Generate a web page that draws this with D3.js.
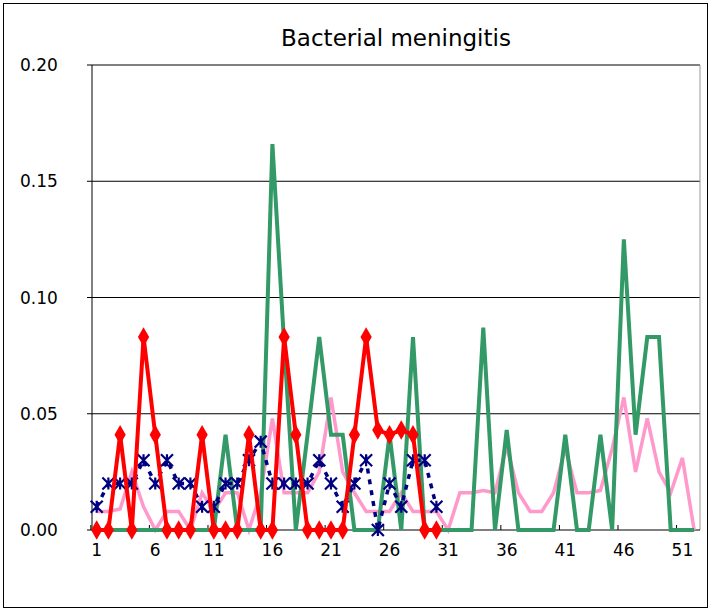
<!DOCTYPE html>
<html><head><meta charset="utf-8"><script src="https://cdn.jsdelivr.net/npm/d3@7"></script>
<style>body{margin:0;background:#fff}</style></head><body>
<script>
const weeks = d3.range(1,53);
const xTicks = [1,6,11,16,21,26,31,36,41,46,51];
const yTicks = [0,0.05,0.10,0.15,0.20];
const red = [0,0,0.041,0,0.083,0.041,0,0,0,0.041,0,0,0,0.041,0,0,0.083,0.041,0,0,0,0,0.041,0.083,0.043,0.041,0.043,0.041,0,0];
const blue = [0.01,0.02,0.02,0.02,0.03,0.02,0.03,0.02,0.02,0.01,0.01,0.02,0.02,0.03,0.038,0.02,0.02,0.02,0.02,0.03,0.02,0.01,0.02,0.03,0,0.02,0.01,0.03,0.03,0.01];
const green = [0,0,0,0,0,0,0,0,0,0,0,0.041,0,0,0,0.166,0.08,0,0.041,0.083,0.041,0.041,0,0,0,0.041,0,0.083,0,0,0,0,0,0.087,0,0.043,0,0,0,0,0.041,0,0,0.041,0,0.125,0.041,0.083,0.083,0,0,0];
const pink = [0.008,0.008,0.009,0.025,0.01,0,0.008,0.008,0,0.016,0.008,0.016,0.016,0,0.016,0.048,0.016,0.016,0.016,0.025,0.057,0.025,0.016,0.008,0.008,0.008,0.016,0.008,0.008,0.008,0,0.016,0.016,0.017,0.016,0.036,0.016,0.008,0.008,0.016,0.035,0.016,0.016,0.017,0.035,0.057,0.025,0.048,0.025,0.016,0.031,0];
const W=710,H=610, L=92,R=700,T=65,B=530;
const svg=d3.select("body").append("svg").attr("width",W).attr("height",H);
svg.append("rect").attr("x",3.5).attr("y",3.5).attr("width",W-6).attr("height",H-6).attr("fill","none").attr("stroke","#000");
const x=d3.scaleLinear().domain([0.6,52.5]).range([L,R]);
const y=d3.scaleLinear().domain([0,0.2]).range([B,T]);
const font="'DejaVu Sans', sans-serif";
svg.append("g").selectAll("line").data(yTicks.slice(1)).join("line")
 .attr("x1",L).attr("x2",R).attr("y1",d=>y(d)).attr("y2",d=>y(d)).attr("stroke","#000");
svg.append("line").attr("x1",R).attr("x2",R).attr("y1",T).attr("y2",B).attr("stroke","#999");
svg.append("line").attr("x1",L).attr("x2",L).attr("y1",T).attr("y2",B).attr("stroke","#000");
svg.append("line").attr("x1",L).attr("x2",R).attr("y1",B).attr("y2",B).attr("stroke","#000");
svg.append("g").selectAll("line").data(yTicks).join("line").attr("x1",L-5).attr("x2",L).attr("y1",d=>y(d)).attr("y2",d=>y(d)).attr("stroke","#000");
svg.append("g").selectAll("line").data(xTicks).join("line").attr("x1",d=>x(d-0.5)).attr("x2",d=>x(d-0.5)).attr("y1",B).attr("y2",B-5).attr("stroke","#000");
svg.append("g").selectAll("text").data(yTicks).join("text").attr("x",20).attr("y",d=>y(d)+6)
 .attr("font-family",font).attr("font-size",17).text(d=>d.toFixed(2));
svg.append("g").selectAll("text").data(xTicks).join("text").attr("x",d=>x(d)).attr("y",556).attr("text-anchor","middle")
 .attr("font-family",font).attr("font-size",17).text(d=>d);
svg.append("text").attr("x",396).attr("y",46).attr("text-anchor","middle").attr("font-family",font).attr("font-size",23).text("Bacterial meningitis");
const line=d3.line().defined(d=>d!=null).x((d,i)=>x(i+1)).y(d=>y(d));
svg.append("path").attr("d",line(pink)).attr("fill","none").attr("stroke","#ff99cc").attr("stroke-width",3.5);
svg.append("path").attr("d",line(green)).attr("fill","none").attr("stroke","#339966").attr("stroke-width",4);
svg.append("path").attr("d",line(blue)).attr("fill","none").attr("stroke","#000080").attr("stroke-width",3.5).attr("stroke-dasharray","5,6");
const g=svg.append("g");
blue.forEach((v,i)=>{const cx=x(i+1),cy=y(v),s=6;
 g.append("path").attr("d",`M${cx-s},${cy-s}L${cx+s},${cy+s}M${cx-s},${cy+s}L${cx+s},${cy-s}M${cx},${cy-s}L${cx},${cy+s}`).attr("stroke","#000080").attr("stroke-width",2.2);});
svg.append("path").attr("d",line(red)).attr("fill","none").attr("stroke","#ff0000").attr("stroke-width",4);
svg.append("g").selectAll("path").data(red).join("path").attr("transform",(d,i)=>`translate(${x(i+1)},${y(d)})`)
 .attr("d",d3.symbol().type(d3.symbolDiamond).size(110)).attr("fill","#ff0000");
</script></body></html>
